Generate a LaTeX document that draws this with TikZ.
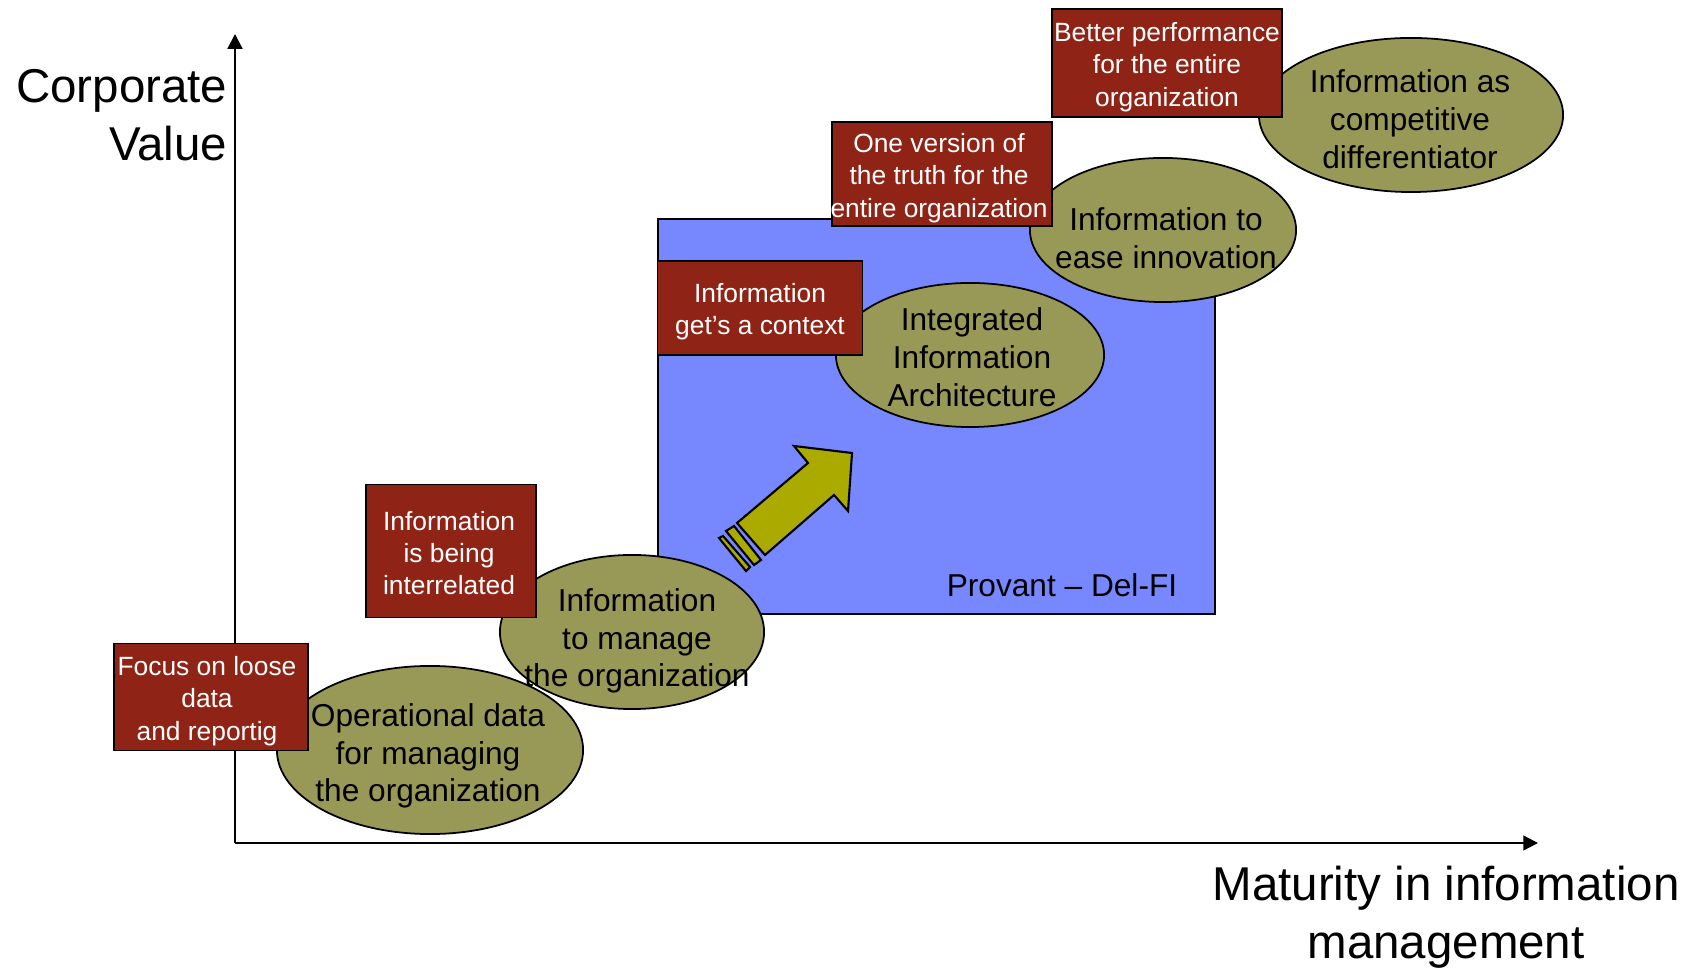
\documentclass[tikz,border=0pt]{standalone}
\usepackage{fontspec}
\setmainfont{Liberation Sans}
\usetikzlibrary{shapes.geometric,arrows.meta}
\definecolor{stagefill}{RGB}{153,153,87}
\definecolor{notefill}{RGB}{143,36,22}
\definecolor{zonefill}{RGB}{119,136,255}
\definecolor{pushfill}{RGB}{170,170,0}

\begin{document}
\begin{tikzpicture}[x=0.01cm,y=-0.01cm,
    stage/.style={draw=black,line width=0.5pt,fill=stagefill,ellipse,inner sep=0pt},
    stagetext/.style={align=center,inner sep=0pt,font=\fontsize{9}{10.75}\selectfont},
    note/.style={draw=black,line width=0.4pt,fill=notefill,inner sep=0pt},
    notetext/.style={text=white,align=center,inner sep=0pt,font=\fontsize{7.5}{9.2}\selectfont},
    axislabel/.style={inner sep=0pt,font=\fontsize{13.5}{16.5}\selectfont},
    axis/.style={line width=0.6pt,-{Triangle[length=4.2pt,width=4.2pt]}}]
    \useasboundingbox (0,0) rectangle (1692,968);
    % axes
    \coordinate (origin) at (235,843);
    \coordinate (ytop) at (235,34);
    \coordinate (xend) at (1538,843);
    \draw [axis] (origin) -- (ytop);
    \draw [axis] (origin) -- (xend);
    \node [axislabel,align=right,anchor=east] (ylab) at (228,115) {Corporate\\Value};
    \node [axislabel,align=center] (xlab) at (1446,917) {Maturity in information\\management};
    % provant zone
    \draw [fill=zonefill,line width=0.8pt] (658,219) rectangle (1215,614);
    \node [stagetext] (zone) at (1062,585) {Provant -- Del-FI};
    % stages
    \node [stage,minimum width=3.06cm,minimum height=1.68cm] (s1) at (430,750) {};
    \node [stagetext] (s1t) at ([shift={(-2,6)}]s1) {Operational data\\for managing\\the organization};
    \node [stage,minimum width=2.64cm,minimum height=1.54cm] (s2) at (632,632) {};
    \node [stagetext] (s2t) at ([shift={(5,9)}]s2) {Information\\to manage\\the organization};
    \node [stage,minimum width=2.68cm,minimum height=1.44cm] (s3) at (970,355) {};
    \node [stagetext] (s3t) at ([shift={(2,2)}]s3) {Integrated\\Information\\Architecture};
    \node [stage,minimum width=2.66cm,minimum height=1.44cm] (s4) at (1163,230) {};
    \node [stagetext] (s4t) at ([shift={(3,8)}]s4) {Information to\\ease innovation};
    \node [stage,minimum width=3.04cm,minimum height=1.54cm] (s5) at (1411,115) {};
    \node [stagetext] (s5t) at ([shift={(-1,4)}]s5) {Information as\\competitive\\differentiator};
    % push arrow
    \draw [fill=pushfill,line width=0.6pt,line join=miter] (737,523) -- (808,463) -- (794,446) -- (852,453) -- (848,511) -- (834,495) -- (765,555) -- cycle;
    \draw [fill=pushfill,line width=0.6pt] (726,531) -- (734,526) -- (761,560) -- (754,565) -- cycle;
    \draw [fill=pushfill,line width=0.6pt] (719,538) -- (723,536) -- (750,567) -- (746,571) -- cycle;
    % notes
    \node [note,minimum width=1.94cm,minimum height=1.07cm] (n1) at (211,697) {};
    \node [notetext] (n1t) at ([shift={(-4,4)}]n1) {Focus on loose\\data\\and reportig};
    \node [note,minimum width=1.70cm,minimum height=1.33cm] (n2) at (451,551) {};
    \node [notetext] (n2t) at ([shift={(-2,2)}]n2) {Information\\is being\\interrelated};
    \node [note,minimum width=2.05cm,minimum height=0.94cm] (n3) at (760,308) {};
    \node [notetext] (n3t) at ([shift={(0,4)}]n3) {Information\\get’s a context};
    \node [note,minimum width=2.20cm,minimum height=1.04cm] (n4) at (942,174) {};
    \node [notetext] (n4t) at ([shift={(-3,4)}]n4) {One version of\\the truth for the\\entire organization};
    \node [note,minimum width=2.30cm,minimum height=1.08cm] (n5) at (1167,63) {};
    \node [notetext] (n5t) at ([shift={(0,4)}]n5) {Better performance\\for the entire\\organization};
\end{tikzpicture}
\end{document}
